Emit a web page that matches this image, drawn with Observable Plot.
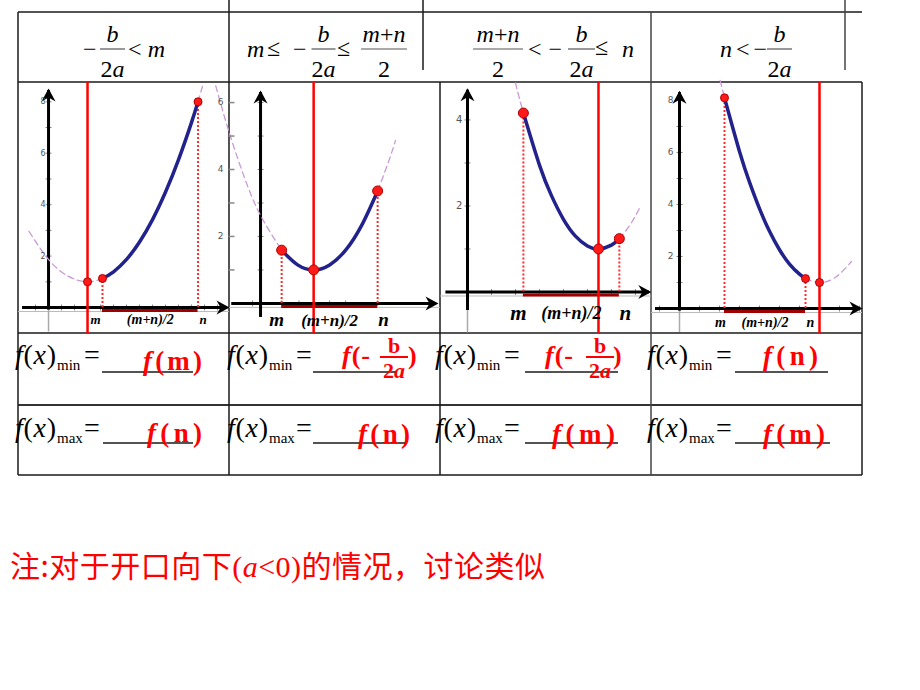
<!DOCTYPE html>
<html><head><meta charset="utf-8">
<script src="https://cdn.jsdelivr.net/npm/d3@7"></script>
<script src="https://cdn.jsdelivr.net/npm/@observablehq/plot@0.6"></script>
<style>
html,body{margin:0;padding:0;background:#fff;}
#page{position:relative;width:920px;height:690px;overflow:hidden;background:#fff;}
#page svg.deco{position:absolute;left:0;top:0;}
.g{position:absolute;top:82px;width:211px;height:251px;}
.g svg{overflow:visible;background:transparent;}
</style></head><body><div id="page"></div>
<script>
// ---------- DATA ----------
// Graph 1: -b/2a < m      [x, y] points
const g1Curve = [[4.15,1.13],[5,1.39],[6,1.87],[7,2.55],[8,3.42],[9,4.49],[10,5.75],[11,7.2],[11.5,8.0]];
const g1DashL = [[-1.5,2.96],[0,1.87],[1.5,1.22],[3,1.0],[4.15,1.13]];
const g1DashR = [[11.5,8.0],[11.7,8.35],[11.9,8.7]];
const g1Pts   = [[3,1.0],[4.15,1.13],[11.5,8.0]];          // vertex, m, n
const g1XTicks = [-1,1,2,3,4,5,6,7,8,9,10,11,12,13];
const g1YTicks = [1,2,3,4,5,6,7,8];
const g1YLabels = [2,4,6,8];

// Graph 2: m <= -b/2a <= (m+n)/2
const g2Curve = [[0.66,1.59],[1.16,1.15],[1.66,1.0],[2.16,1.15],[2.66,1.59],[3.16,2.33],[3.66,3.36]];
const g2DashL = [[-1.4,6.5],[-1.0,5.17],[-0.5,3.75],[0,2.63],[0.66,1.59]];
const g2DashR = [[3.66,3.36],[4.0,4.23],[4.22,4.87]];
const g2Pts   = [[1.66,1.0],[0.66,1.59],[3.66,3.36]];
const g2XTicks = [-0.25,0.66,1.2,1.66,2.16,2.66,3.66];
const g2YTicks = [1,2,3,4,5,6];
const g2SideLabels = [2,4,6];

// Graph 3: (m+n)/2 < -b/2a <= n
const g3Curve = [[2.33,4.16],[3,2.95],[3.5,2.24],[4,1.69],[4.5,1.3],[5,1.07],[5.46,1.0],[6,1.09],[6.33,1.24]];
const g3DashL = [[2.0,4.86],[2.15,4.53],[2.33,4.16]];
const g3DashR = [[6.33,1.24],[6.8,1.58],[7.2,1.98]];
const g3Pts   = [[5.46,1.0],[2.33,4.16],[6.33,1.24]];
const g3XTicks = [1,2,3,4,5,6,7];
const g3YTicks = [1,2,3,4];
const g3YLabels = [2,4];

// Graph 4: n < -b/2a
const g4Curve = [[2.25,8.1],[3,6.04],[3.5,4.86],[4,3.84],[4.5,2.97],[5,2.26],[5.5,1.71],[6,1.32],[6.3,1.15]];
const g4DashL = [[2.03,8.77],[2.15,8.42],[2.25,8.1]];
const g4DashR = [[6.3,1.15],[7.0,1.0],[7.8,1.2],[8.6,1.81]];
const g4Pts   = [[7,1.0],[2.25,8.1],[6.3,1.15]];
const g4XTicks = [-1,1,2,3,4,5,6,7,8,9];
const g4YTicks = [1,2,3,4,5,6,7,8];
const g4YLabels = [2,4,6,8];

// Answers in the table
const minAnswers = ["f(m)", "f(-b/2a)", "f(-b/2a)", "f(n)"];
const maxAnswers = ["f(n)", "f(n)", "f(m)", "f(m)"];
const noteText = ["注:对于开口向下", "(a<0)", "的情况，讨论类似"];

// ---------- PAGE ----------
const page = d3.select("#page");
const svg = page.append("svg").attr("class","deco").attr("width",920).attr("height",690);
const SERIF = "'Liberation Serif','Times New Roman',serif";

function L(x1,y1,x2,y2,o={}){
  svg.append("line").attr("x1",x1).attr("y1",y1).attr("x2",x2).attr("y2",y2)
    .attr("stroke",o.c||"#1a1a1a").attr("stroke-width",o.w||1.5);
}
function txt(x,y,parts,o={}){
  const t = svg.append("text").attr("x",x).attr("y",y)
    .attr("font-family",o.ff||SERIF).attr("font-size",o.fs||24)
    .attr("fill",o.fill||"#000").attr("text-anchor",o.anchor||"start");
  if(o.fw) t.attr("font-weight",o.fw);
  if(o.len) t.attr("textLength",o.len).attr("lengthAdjust","spacing");
  for(const p of parts){
    const [s,it,ff] = typeof p==="string"?[p,false]:p;
    const ts = t.append("tspan").attr("font-style",it?"italic":"normal").text(s);
    if(ff) ts.attr("font-family",ff);
  }
  return t;
}
function frac(cx,num,den,o={}){
  txt(cx,o.ny||42,num,{anchor:"middle",fs:o.fs||24,fw:o.fw,fill:o.fill});
  L(cx-o.w/2,o.by||49,cx+o.w/2,o.by||49,{c:o.c||"#555",w:o.bw||1.2});
  txt(cx,o.dy||77,den,{anchor:"middle",fs:o.fs||24,fw:o.fw,fill:o.fill});
}

// table grid
L(18,12,862,12); L(18,82,862,82); L(18,333,862,333); L(18,405,862,405,{c:"#333",w:2}); L(18,475,862,475);
L(18,12,18,475); L(229,0,229,475); L(440,82,440,475); L(651,12,651,475,{c:"#444"}); L(862,82,862,475);
L(423,0,423,70); L(845,0,845,70,{c:"#444"});

// header row
txt(83,57,["−"]); frac(112.5,[["b",1]],["2",["a",1]],{w:25}); txt(128,57,["<",["m",1]],{len:37});
txt(247,57,[["m",1]]); txt(267,56,["≤"]); txt(293,57,["−"]);
frac(323.5,[["b",1]],["2",["a",1]],{w:24}); txt(337,56,["≤"]);
frac(384,[["m",1],"+",["n",1]],["2"],{w:46});
frac(498,[["m",1],"+",["n",1]],["2"],{w:50}); txt(528,57,["<−"],{len:34});
frac(581.5,[["b",1]],["2",["a",1]],{w:27}); txt(595,55,["≤"]); txt(622,57,[["n",1]]);
txt(720,57,[["n",1],"<−"],{len:47}); frac(779.5,[["b",1]],["2",["a",1]],{w:25});

// f(x)min / f(x)max rows
const fxX = [15,227,435,647];
const ulMin = [[102,193],[313,397],[525,618],[735,828]];
const ulMax = [[103,193],[313,405],[525,618],[735,830]];
fxX.forEach((x,i)=>{
  txt(x,364,[["f",1],"(",["x",1],")"],{fs:28,len:41});
  txt(x+42,370,["min"],{fs:15});
  txt(x+69,364,["="],{fs:28});
  txt(x,437,[["f",1],"(",["x",1],")"],{fs:28,len:41});
  txt(x+42,443,["max"],{fs:15});
  txt(x+69,437,["="],{fs:28});
  L(ulMin[i][0],372,ulMin[i][1],372,{w:1.5});
  L(ulMax[i][0],443,ulMax[i][1],443,{w:1.5});
});
const RED = "#ff0000";
function redF(x,y,ans,len){
  const inner = ans.slice(2,-1);
  txt(x,y,[["f",1],"(",inner,")"],{fs:27,fw:"bold",fill:RED,len});
}
function redFrac(x,cx,close){
  txt(x,364,[["f",1],"(-"],{fs:26,fw:"bold",fill:RED,len:28});
  frac(cx,["b"],["2",["a",1]],{fs:22,fw:"bold",fill:RED,ny:353,by:357,dy:378,w:28,c:RED,bw:2});
  txt(close,364,[")"],{fs:26,fw:"bold",fill:RED});
}
// min answers
redF(143,370,minAnswers[0],59);
redFrac(342,394,408);
redFrac(545,600,613);
redF(763,365,minAnswers[3],55);
// max answers
redF(147,442,maxAnswers[0],55);
redF(358,443,maxAnswers[1],52);
redF(552,443,maxAnswers[2],63);
redF(763,443,maxAnswers[3],62);

// note
txt(10,577,[noteText[0],["(",0,SERIF],["a",1,SERIF],["<0)",0,SERIF],noteText[2]],
  {ff:"'Noto Sans CJK SC',sans-serif",fs:30,fill:RED,len:535});

// ---------- GRAPHS ----------
const hTick = {draw(c){c.moveTo(-3,0);c.lineTo(3,0);}};
const vTick = {draw(c){c.moveTo(0,-3);c.lineTo(0,3);}};
const headRight = {draw(c){c.moveTo(2,0);c.lineTo(-11,-7);c.lineTo(-7,0);c.lineTo(-11,7);c.closePath();}};
const headUp = {draw(c){c.moveTo(0,-2);c.lineTo(-7,11);c.lineTo(0,7);c.lineTo(7,11);c.closePath();}};
const P = a => a.map(([x,y])=>({x,y}));

function graph(cfg,D){
  const h = D.pts[0][0], m = D.pts[1][0], n = D.pts[2][0];
  const lab = {fontFamily:SERIF,fontWeight:"bold",fontStyle:"italic",fill:"#000",lineAnchor:"middle"};
  const marks = [
    Plot.ruleY([0],{x1:cfg.xd[0],x2:cfg.xd[1],dy:4,stroke:"#bbb",strokeWidth:1}),
    Plot.ruleX([0],{y1:cfg.yGray,y2:0,stroke:"#aaa",strokeWidth:1.5}),
    Plot.dot(D.xticks,{x:d=>d,y:0,symbol:vTick,fill:"none",stroke:"#888",strokeWidth:1}),
    Plot.dot(D.yticks,{x:0,y:d=>d,symbol:hTick,fill:"none",stroke:"#888",strokeWidth:1}),
    Plot.ruleY([0],{x1:cfg.xAxis[0],x2:cfg.xAxis[1],stroke:"#000",strokeWidth:3}),
    Plot.ruleX([0],{y1:cfg.yBlack,y2:cfg.yTop,stroke:"#000",strokeWidth:3}),
    Plot.dot([0],{x:cfg.xAxis[1],y:0,symbol:headRight,fill:"#000"}),
    Plot.dot([0],{x:0,y:cfg.yTop,symbol:headUp,fill:"#000"}),
    Plot.ruleY([0],{x1:m,x2:n,dy:3,stroke:"#a00000",strokeWidth:3}),
    Plot.line(P(D.dashL),{x:"x",y:"y",curve:"natural",stroke:"#c99ad6",strokeWidth:1.3,strokeDasharray:"6,4"}),
    Plot.line(P(D.dashR),{x:"x",y:"y",curve:"natural",stroke:"#c99ad6",strokeWidth:1.3,strokeDasharray:"6,4"}),
    Plot.ruleX([D.pts[1],D.pts[2]],{x:d=>d[0],y1:0,y2:d=>d[1],stroke:"#ff2a2a",strokeWidth:2,strokeDasharray:"2,2"}),
    Plot.ruleX([h],{stroke:"#ff0000",strokeWidth:2.5}),
    Plot.line(P(D.curve),{x:"x",y:"y",curve:"natural",stroke:"#22228c",strokeWidth:3.5}),
    Plot.dot(D.pts,{x:d=>d[0],y:d=>d[1],r:cfg.r,fill:"#ff1a1a",stroke:"#b00000",strokeWidth:1}),
    Plot.text([m],{x:d=>d,y:0,text:()=>"m",dx:cfg.mdx,dy:cfg.ldy,fontSize:cfg.lfs,...lab}),
    Plot.text([(m+n)/2],{x:d=>d,y:0,text:()=>"(m+n)/2",dy:cfg.ldy,fontSize:cfg.mfs,...lab}),
    Plot.text([n],{x:d=>d,y:0,text:()=>"n",dx:cfg.ndx,dy:cfg.ldy,fontSize:cfg.lfs,...lab})
  ];
  if(D.ylabels) marks.push(Plot.text(D.ylabels,{x:0,y:d=>d,text:d=>`${d}`,dx:cfg.ylDx,textAnchor:"end",fontSize:cfg.ylFs,fill:"#555",fontFamily:"'DejaVu Sans',sans-serif"}));
  if(D.side) marks.push(Plot.text(D.side,{x:cfg.xd[0],y:d=>d,text:d=>`${d}`,dx:-9,fontSize:9,fill:"#555",fontFamily:"'DejaVu Sans',sans-serif"}));
  if(D.side) marks.push(Plot.dot(D.yticks,{x:cfg.xd[0],y:d=>d,dx:2,symbol:hTick,fill:"none",stroke:"#888"}));
  return Plot.plot({width:211,height:251,margin:0,
    x:{domain:cfg.xd,axis:null},y:{domain:cfg.yd,axis:null},
    style:{background:"transparent",overflow:"visible"},marks});
}

const graphs = [
  {x0:18, cfg:{xd:[-2.31,13.92],yd:[-1.01,8.75],xAxis:[-2.0,13.77],yTop:8.44,yBlack:-0.1,yGray:-0.95,r:4,lfs:13,mfs:14,ldy:12,mdx:-7,ndx:5,ylDx:-3,ylFs:8},
   D:{curve:g1Curve,dashL:g1DashL,dashR:g1DashR,pts:g1Pts,xticks:g1XTicks,yticks:g1YTicks,ylabels:g1YLabels}},
  {x0:229, cfg:{xd:[-0.97,5.625],yd:[-0.90,6.6],xAxis:[-0.9,5.5],yTop:6.3,yBlack:-0.42,yGray:-0.42,r:5,lfs:19,mfs:17,ldy:17,mdx:-5,ndx:6},
   D:{curve:g2Curve,dashL:g2DashL,dashR:g2DashR,pts:g2Pts,xticks:g2XTicks,yticks:g2YTicks,side:g2SideLabels}},
  {x0:440, cfg:{xd:[-1.125,7.67],yd:[-0.965,4.87],xAxis:[-0.9,7.58],yTop:4.69,yBlack:-0.43,yGray:-0.95,r:5,lfs:21,mfs:18,ldy:21,mdx:-5,ndx:6,ylDx:-5,ylFs:10},
   D:{curve:g3Curve,dashL:g3DashL,dashR:g3DashR,pts:g3Pts,xticks:g3XTicks,yticks:g3YTicks,ylabels:g3YLabels}},
  {x0:651, cfg:{xd:[-1.4,9.15],yd:[-0.96,8.69],xAxis:[-1.2,9.05],yTop:8.3,yBlack:-0.1,yGray:-0.92,r:4,lfs:14,mfs:14,ldy:14,mdx:-4,ndx:5,ylDx:-6,ylFs:9},
   D:{curve:g4Curve,dashL:g4DashL,dashR:g4DashR,pts:g4Pts,xticks:g4XTicks,yticks:g4YTicks,ylabels:g4YLabels}}
];
graphs.forEach(g=>{
  const div = page.append("div").attr("class","g").style("left",g.x0+"px");
  div.node().appendChild(graph(g.cfg,g.D));
});
</script></body></html>
